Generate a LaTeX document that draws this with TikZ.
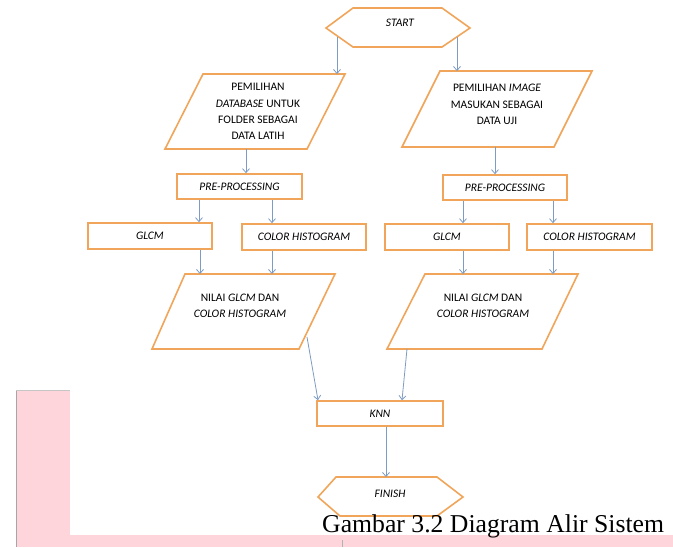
\documentclass[tikz,border=0pt]{standalone}
\usepackage{fontspec}
\setmainfont{Carlito}
\newfontfamily\capfont{Liberation Serif}
\usetikzlibrary{arrows.meta}
\definecolor{boxorange}{RGB}{240,165,90}
\definecolor{arrowblue}{RGB}{125,155,195}
\definecolor{pinkband}{RGB}{253,213,219}
\begin{document}
\begin{tikzpicture}[x=1pt,y=-1pt,
  shapeline/.style={draw=boxorange,line width=1.6pt,line join=miter},
  procbox/.style={shapeline,fill=white,minimum height=25pt,minimum width=124pt,inner sep=0pt,font=\fontsize{11.5}{16}\selectfont\itshape},
  lbl/.style={font=\fontsize{11.5}{16.3}\selectfont,align=center,inner sep=0pt},
  flow/.style={draw=arrowblue,line width=0.8pt,-{Straight Barb[length=4pt,width=7pt]}}]
\useasboundingbox (0,0) rectangle (673,547);
% pink page marks
\fill[pinkband] (16,390) rectangle (70,547);
\fill[pinkband] (16,535) rectangle (673,547);
\draw[gray!70,line width=0.8pt] (16.4,390) -- (16.4,547);
\draw[gray!45,line width=0.8pt] (16,390.4) -- (70,390.4);
\draw[gray!60,line width=0.6pt] (342,540) -- (342,547);
% START
\draw[shapeline] (326,28) -- (353,8) -- (442,8) -- (470,28) -- (442,47) -- (353,47) -- cycle;
\node[lbl,font=\fontsize{11.5}{16}\selectfont\itshape] (start) at (400,23) {START};
\coordinate (sL) at (337,37);
\coordinate (sR) at (457,37);
% left input parallelogram
\draw[shapeline] (203,74) -- (345,74) -- (307,149) -- (165,149) -- cycle;
\node[lbl] (dbL) at (258,111.5) {PEMILIHAN\\\textit{DATABASE} UNTUK\\FOLDER SEBAGAI\\DATA LATIH};
\coordinate (dbLtop) at (337,74);
\coordinate (dbLbot) at (246,149);
% right input parallelogram
\draw[shapeline] (440,71) -- (592,71) -- (554,147) -- (402,147) -- cycle;
\node[lbl] (imgR) at (497,104.5) {PEMILIHAN \textit{IMAGE}\\MASUKAN SEBAGAI\\DATA UJI};
\coordinate (imgRtop) at (457,71);
\coordinate (imgRbot) at (495,147);
% boxes
\node[procbox,minimum width=125pt] (preL) at (239.5,186.5) {PRE-PROCESSING};
\node[procbox] (preR) at (505,187.5) {PRE-PROCESSING};
\node[procbox,minimum height=26pt] (glcmL) at (150,236) {GLCM};
\node[procbox,minimum height=26pt] (chL) at (304,237) {COLOR HISTOGRAM};
\node[procbox,minimum height=26pt] (glcmR) at (447,237) {GLCM};
\node[procbox,minimum height=26pt,minimum width=125pt] (chR) at (589.5,237) {COLOR HISTOGRAM};
% result parallelograms
\draw[shapeline] (185,274) -- (335,274) -- (299,349) -- (152,349) -- cycle;
\node[lbl] (nL) at (240,305.5) {NILAI \textit{GLCM} DAN\\\textit{COLOR HISTOGRAM}};
\draw[shapeline] (425,274) -- (578,274) -- (542,349) -- (387,349) -- cycle;
\node[lbl] (nR) at (483,305.5) {NILAI \textit{GLCM} DAN\\\textit{COLOR HISTOGRAM}};
\coordinate (nLtopA) at (200,274);
\coordinate (nLtopB) at (272,274);
\coordinate (nRtopA) at (463,274);
\coordinate (nRtopB) at (553,274);
\coordinate (nLout) at (307,337);
\coordinate (nRout) at (407,349);
% KNN
\node[procbox,minimum width=126pt] (knn) at (380,413.5) {KNN};
% FINISH
\draw[shapeline] (318,497) -- (336,477) -- (437,477) -- (463,497) -- (437,516) -- (340,516) -- cycle;
\node[lbl,font=\fontsize{11.5}{16}\selectfont\itshape] (finish) at (390,494) {FINISH};
\coordinate (finTop) at (386,477);
% connectors
\draw[flow] (sL) -- (dbLtop);
\draw[flow] (sR) -- (imgRtop);
\draw[flow] (dbLbot) -- (dbLbot |- preL.north);
\draw[flow] (imgRbot) -- (imgRbot |- preR.north);
\draw[flow] (preL.south -| 199,0) -- (glcmL.north -| 199,0);
\draw[flow] (preL.south -| 272,0) -- (chL.north -| 272,0);
\draw[flow] (preR.south -| 463,0) -- (glcmR.north -| 463,0);
\draw[flow] (preR.south -| 553,0) -- (chR.north -| 553,0);
\draw[flow] (glcmL.south -| nLtopA) -- (nLtopA);
\draw[flow] (chL.south -| nLtopB) -- (nLtopB);
\draw[flow] (glcmR.south -| nRtopA) -- (nRtopA);
\draw[flow] (chR.south -| nRtopB) -- (nRtopB);
\draw[flow] (nLout) -- (knn.north -| 318,0);
\draw[flow] (nRout) -- (knn.north -| 402,0);
\draw[flow] (knn.south -| finTop) -- (finTop);
% caption
\node[anchor=base west,inner sep=0pt,font=\capfont\fontsize{25.7}{30}\selectfont] (cap) at (322,532) {Gambar 3.2 Diagram Alir Sistem};
\end{tikzpicture}
\end{document}
